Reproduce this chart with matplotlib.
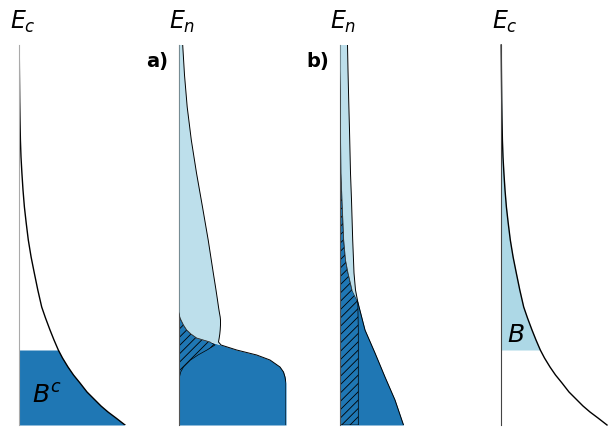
import matplotlib
matplotlib.use('Agg')
import matplotlib.pyplot as plt
import matplotlib.colors as mcolors
import numpy as np

# energy levels (bottom = 0, top = 38) and densities
e_c = [38.0, 35.5, 32.5, 30.5, 28.5, 26.8, 25.2, 23.5, 21.8, 20.2, 18.5, 16.8, 15.2, 13.5,
       11.8, 10.7, 9.5, 8.5, 7.5, 6.7, 5.8, 5.0, 4.2, 3.3, 2.5, 1.9, 1.3, 0.7, 0.0]
p_c = [0.02, 0.04, 0.07, 0.1, 0.14, 0.2, 0.29, 0.4, 0.54, 0.72, 0.93, 1.21, 1.53, 1.88,
       2.27, 2.65, 3.1, 3.5, 3.93, 4.35, 4.9, 5.45, 6.1, 6.8, 7.6, 8.2, 8.9, 9.7, 10.6]
threshold = 7.5

e_a = [38.0, 35.0, 31.8, 28.5, 25.2, 21.8, 18.5, 15.2, 13.5, 12.5, 11.8, 11.3,
       10.8, 10.5, 10.0, 9.5, 9.1, 8.7, 8.3, 8.0, 7.5, 7.0, 6.5, 5.8, 5.3, 4.8, 4.2, 3.5, 2.5, 0.0]
dark_a = [0, 0, 0, 0, 0, 0, 0, 0, 0, 0, 0, 0,
          0.08, 0.2, 0.45, 0.77, 1.2, 1.77, 3.1, 4.2, 5.77, 7.77, 9.1, 10.1, 10.45, 10.6,
          10.7, 10.7, 10.7, 10.7]
light_a = [0.37, 0.55, 0.82, 1.23, 1.75, 2.35, 2.92, 3.43, 3.7, 3.85, 3.95, 4.03,
           4.04, 3.95, 3.7, 3.35, 2.88, 2.25, 0.85, 0, 0, 0, 0, 0, 0, 0, 0, 0, 0, 0]
hatch_a = [0, 0, 0, 0, 0, 0, 0, 0, 0, 0, 0, 0,
           0.08, 0.2, 0.45, 0.77, 1.2, 1.77, 3.1, 3.6, 2.8, 1.9, 1.15, 0.45, 0.17, 0.05,
           0, 0, 0, 0]

e_b = [38.0, 35.5, 32.5, 29.5, 25.2, 22.5, 18.5, 16.5, 15.2, 13.5, 12.3, 9.5, 7.2, 4.8, 2.5, 0.0]
dark_b = [0, 0, 0.05, 0.05, 0.1, 0.2, 0.37, 0.55, 0.8, 1.2, 1.78, 2.5, 3.5, 4.5, 5.5, 6.35]
light_b = [0.75, 0.8, 0.82, 0.9, 0.95, 0.95, 0.9, 0.8, 0.6, 0.35, 0, 0, 0, 0, 0, 0]
hatch_b = [0, 0, 0.05, 0.05, 0.1, 0.2, 0.37, 0.55, 0.8, 1.2, 1.78, 1.83, 1.83, 1.83, 1.83, 1.83]

titles = ['$E_c$', '$E_n$', '$E_n$', '$E_c$']
panel_tags = ['', 'a)', 'b)', '']

DARK = '#1f77b4'
LIGHT = mcolors.to_rgba('lightblue', 0.8)

plt.rcParams['hatch.linewidth'] = 0.6

fig = plt.figure(figsize=(6.08, 4.28), dpi=100)
lefts = [19, 179, 340, 501]
axes = []
for left in lefts:
    ax = fig.add_axes([left / 608, 3 / 428, 107 / 608, 380 / 428])
    ax.set_xlim(0, 10.7)
    ax.set_ylim(0, 38)
    for s in ['top', 'right', 'bottom']:
        ax.spines[s].set_visible(False)
    ax.spines['left'].set_linewidth(0.8)
    ax.spines['left'].set_color('#555555')
    ax.set_xticks([])
    ax.set_yticks([])
    ax.patch.set_visible(False)
    axes.append(ax)

e_c_arr = np.array(e_c)

# panel 1: complement region B^c
ax = axes[0]
ax.spines['left'].set_color('#aaaaaa')
ax.fill_betweenx(e_c, 0, p_c, where=e_c_arr <= threshold, color=DARK, lw=0)
ax.plot(p_c, e_c, color='black', lw=1)
ax.text(1.3, 2.2, '$B^c$', fontsize=18, va='baseline', ha='left')


def mapped_panel(ax, e, dark, light, hatch):
    e = np.array(e)
    dark = np.array(dark)
    light = np.array(light)
    ax.fill_betweenx(e, 0, dark, color=DARK, lw=0, zorder=1)
    ax.fill_betweenx(e, 0, hatch, facecolor='none', edgecolor='black',
                     hatch='////', lw=0.5, zorder=2)
    ax.fill_betweenx(e, dark, dark + light, facecolor=LIGHT, lw=0, zorder=3)
    # outline of the stacked densities and the inner boundary
    ax.plot(dark + light, e, color='black', lw=0.7, zorder=4)
    inner = np.ma.masked_where(np.r_[light[:-1] + light[1:], 0] == 0, dark)
    ax.plot(inner, e, color='#333333', lw=0.5, zorder=4)


mapped_panel(axes[1], e_a, dark_a, light_a, hatch_a)
mapped_panel(axes[2], e_b, dark_b, light_b, hatch_b)

# panel 4: region B
ax = axes[3]
ax.spines['left'].set_color('#444444')
ax.fill_betweenx(e_c, 0, p_c, where=e_c_arr >= threshold, color='lightblue', lw=0)
ax.plot(p_c, e_c, color='black', lw=1, clip_on=False)
ax.text(0.6, 8.3, '$B$', fontsize=18, va='baseline', ha='left')

for ax, title, tag in zip(axes, titles, panel_tags):
    ax.text(0.35, 39.0, title, fontsize=17, ha='center', va='bottom')
    if tag:
        ax.text(-1.1, 36.4, tag, fontsize=14, fontweight='bold', ha='right', va='center')

fig.savefig('out.png', dpi=100)
